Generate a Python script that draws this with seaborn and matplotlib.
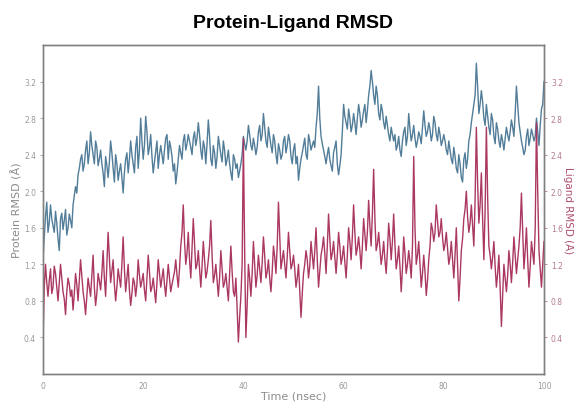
import numpy as np
import pandas as pd
import matplotlib
matplotlib.use('Agg')
import matplotlib.pyplot as plt
import seaborn as sns

# readings every 0.5 nsec (on the half-nsec grid)
protein_rmsd = [
    1.25, 1.72, 1.55, 1.85, 1.62, 1.78, 1.48, 1.70, 1.58, 1.80,
    1.60, 1.68, 1.85, 2.05, 2.18, 2.35, 2.22, 2.45, 2.30, 2.65,
    2.40, 2.55, 2.28, 2.45, 2.20, 2.38, 2.15, 2.55, 2.25, 2.40,
    2.12, 2.30, 1.98, 2.35, 2.20, 2.55, 2.30, 2.48, 2.25, 2.80,
    2.35, 2.82, 2.40, 2.62, 2.20, 2.45, 2.25, 2.50, 2.30, 2.58,
    2.35, 2.48, 2.22, 2.08, 2.35, 2.42, 2.55, 2.45, 2.62, 2.48,
    2.58, 2.50, 2.75, 2.45, 2.55, 2.30, 2.78, 2.35, 2.50, 2.25,
    2.60, 2.40, 2.55, 2.28, 2.45, 2.20, 2.40, 2.25, 2.15, 2.30,
    2.60, 2.45, 2.72, 2.50, 2.58, 2.40, 2.65, 2.55, 2.85, 2.55,
    2.70, 2.50, 2.62, 2.40, 2.52, 2.35, 2.55, 2.42, 2.62, 2.38,
    2.45, 2.30, 2.12, 2.35, 2.50, 2.40, 2.62, 2.45, 2.55, 2.70,
    3.15, 2.60, 2.45, 2.30, 2.48, 2.28, 2.42, 2.55, 2.18, 2.40,
    2.95, 2.75, 2.90, 2.65, 2.85, 2.62, 2.95, 2.70, 2.88, 2.75,
    3.05, 3.32, 3.05, 3.15, 2.85, 2.95, 2.75, 2.82, 2.62, 2.70,
    2.55, 2.45, 2.60, 2.38, 2.65, 2.50, 2.85, 2.55, 2.72, 2.48,
    2.65, 2.52, 2.88, 2.60, 2.75, 2.55, 2.82, 2.62, 2.70, 2.50,
    2.62, 2.45, 2.55, 2.35, 2.48, 2.25, 2.40, 2.15, 2.35, 2.25,
    2.55, 2.75, 2.95, 3.40, 2.85, 3.10, 2.80, 2.95, 2.70, 2.85,
    2.60, 2.75, 2.55, 2.62, 2.45, 2.70, 2.55, 2.78, 2.60, 3.15,
    2.75, 2.55, 2.40, 2.60, 2.50, 2.68, 2.55, 2.80, 2.50, 2.90,
    3.20,
]

# readings in between (0.25, 0.75, ... nsec)
protein_rmsd_mid = [
    1.50, 1.88, 1.66, 1.70, 1.55, 1.65, 1.35, 1.76, 1.68, 1.52,
    1.75, 1.60, 1.95, 1.98, 2.25, 2.40, 2.30, 2.55, 2.42, 2.50,
    2.30, 2.48, 2.35, 2.30, 2.05, 2.28, 2.32, 2.42, 2.10, 2.30,
    2.22, 2.15, 2.20, 2.42, 2.35, 2.40, 2.20, 2.60, 2.45, 2.55,
    2.50, 2.65, 2.48, 2.38, 2.32, 2.55, 2.40, 2.40, 2.45, 2.62,
    2.55, 2.38, 2.30, 2.20, 2.50, 2.35, 2.62, 2.52, 2.55, 2.40,
    2.65, 2.58, 2.62, 2.35, 2.48, 2.52, 2.60, 2.28, 2.42, 2.38,
    2.50, 2.32, 2.45, 2.35, 2.30, 2.12, 2.35, 2.30, 2.22, 2.40,
    2.52, 2.55, 2.62, 2.45, 2.50, 2.48, 2.72, 2.62, 2.70, 2.48,
    2.60, 2.42, 2.55, 2.30, 2.45, 2.40, 2.60, 2.50, 2.55, 2.30,
    2.52, 2.38, 2.25, 2.42, 2.58, 2.35, 2.55, 2.50, 2.48, 2.85,
    2.80, 2.52, 2.38, 2.40, 2.35, 2.22, 2.48, 2.30, 2.28, 2.65,
    2.82, 2.68, 2.80, 2.72, 2.75, 2.80, 2.85, 2.78, 2.95, 2.88,
    3.15, 3.20, 2.95, 3.05, 2.78, 2.88, 2.68, 2.72, 2.55, 2.62,
    2.62, 2.50, 2.45, 2.55, 2.70, 2.60, 2.68, 2.62, 2.58, 2.55,
    2.60, 2.70, 2.72, 2.65, 2.68, 2.62, 2.75, 2.55, 2.62, 2.55,
    2.55, 2.40, 2.45, 2.30, 2.38, 2.20, 2.30, 2.10, 2.42, 2.35,
    2.62, 2.85, 3.05, 3.15, 2.95, 2.98, 2.72, 2.82, 2.62, 2.78,
    2.52, 2.68, 2.48, 2.55, 2.58, 2.62, 2.65, 2.70, 2.85, 2.95,
    2.65, 2.48, 2.45, 2.68, 2.58, 2.62, 2.60, 2.65, 2.72, 2.95,
]

ligand_rmsd = [
    0.35, 1.20, 0.85, 1.15, 0.95, 1.10, 0.80, 1.20, 0.90, 0.65,
    1.05, 0.85, 0.70, 1.10, 0.80, 1.25, 0.90, 0.65, 1.05, 0.85,
    1.30, 0.75, 1.10, 0.92, 1.35, 0.85, 1.55, 1.00, 1.25, 0.80,
    1.15, 0.95, 1.50, 0.90, 1.20, 0.75, 1.05, 0.85, 1.25, 0.95,
    1.10, 0.80, 1.30, 0.90, 1.05, 0.78, 1.25, 0.95, 1.15, 0.85,
    1.20, 0.90, 1.05, 1.25, 0.95, 1.40, 1.85, 1.20, 1.55, 1.05,
    1.70, 1.15, 1.35, 0.95, 1.45, 1.05, 1.25, 1.68, 1.00, 1.20,
    0.85, 1.35, 0.95, 1.10, 0.80, 1.40, 0.90, 1.05, 0.35, 0.85,
    2.58, 0.40, 1.20, 0.85, 1.45, 0.95, 1.30, 1.00, 1.50, 1.05,
    1.25, 0.90, 1.40, 1.10, 1.88, 1.15, 1.35, 1.05, 1.55, 1.15,
    1.30, 0.95, 1.20, 0.62, 1.10, 1.35, 1.05, 1.45, 1.15, 1.60,
    0.95, 1.30, 1.50, 1.10, 1.75, 1.25, 1.45, 1.10, 1.55, 1.20,
    1.40, 1.05, 1.60, 1.25, 1.85, 1.30, 1.50, 1.15, 1.70, 1.35,
    1.90, 1.40, 2.24, 1.35, 1.55, 1.20, 1.45, 1.10, 1.65, 1.25,
    1.75, 1.15, 1.40, 0.90, 1.50, 1.10, 1.35, 1.05, 2.38, 1.20,
    1.45, 0.95, 1.30, 0.86, 1.25, 1.65, 1.45, 1.85, 1.50, 1.70,
    1.35, 1.55, 1.20, 1.45, 1.05, 1.60, 0.80, 1.35, 1.70, 2.00,
    1.55, 1.85, 1.40, 2.70, 1.65, 2.20, 1.25, 2.70, 1.40, 1.15,
    1.45, 0.95, 1.30, 0.52, 1.20, 0.90, 1.35, 1.00, 1.50, 1.10,
    1.40, 1.98, 1.15, 1.60, 0.95, 1.45, 1.20, 2.75, 1.35, 0.95,
    1.45,
]

ligand_rmsd_mid = [
    0.95, 1.00, 1.02, 0.88, 1.18, 0.95, 1.00, 1.05, 0.82, 0.90,
    0.98, 0.92, 0.88, 0.98, 1.02, 1.08, 0.80, 0.85, 0.95, 1.08,
    0.95, 0.88, 1.02, 1.10, 1.05, 1.20, 1.28, 1.12, 0.98, 0.95,
    1.05, 1.20, 1.15, 1.05, 0.92, 0.88, 1.00, 0.98, 1.08, 1.02,
    0.92, 1.05, 1.12, 0.95, 0.92, 1.00, 1.10, 1.05, 0.98, 1.02,
    1.05, 0.98, 1.12, 1.08, 1.15, 1.55, 1.45, 1.32, 1.25, 1.38,
    1.42, 1.20, 1.15, 1.18, 1.25, 1.12, 1.40, 1.30, 1.08, 1.02,
    1.05, 1.15, 1.00, 0.95, 1.10, 1.12, 0.85, 0.72, 0.62, 1.20,
    1.35, 0.75, 1.05, 1.10, 1.20, 1.08, 1.15, 1.22, 1.30, 1.12,
    1.05, 1.12, 1.28, 1.40, 1.50, 1.25, 1.20, 1.28, 1.35, 1.20,
    1.15, 1.05, 0.90, 0.88, 1.20, 1.25, 1.18, 1.30, 1.35, 1.25,
    1.12, 1.38, 1.32, 1.40, 1.48, 1.32, 1.28, 1.30, 1.40, 1.28,
    1.22, 1.30, 1.45, 1.50, 1.55, 1.38, 1.35, 1.40, 1.52, 1.55,
    1.62, 1.75, 1.70, 1.42, 1.38, 1.30, 1.25, 1.35, 1.48, 1.45,
    1.42, 1.25, 1.18, 1.15, 1.32, 1.20, 1.22, 1.40, 1.60, 1.30,
    1.20, 1.10, 1.12, 1.02, 1.40, 1.58, 1.55, 1.68, 1.55, 1.50,
    1.42, 1.38, 1.28, 1.25, 1.30, 1.20, 1.05, 1.48, 1.80, 1.72,
    1.65, 1.62, 1.90, 2.10, 1.85, 1.70, 1.80, 1.95, 1.30, 1.28,
    1.18, 1.10, 0.95, 0.85, 1.05, 1.08, 1.20, 1.22, 1.30, 1.25,
    1.60, 1.55, 1.35, 1.25, 1.18, 1.32, 1.60, 2.00, 1.15, 1.20,
]

y_ticks = [0.4, 0.8, 1.2, 1.6, 2.0, 2.4, 2.8, 3.2]
x_ticks = [0, 20, 40, 60, 80, 100]

protein_color = '#527d99'
ligand_color = '#ab3862'
tick_gray = '#9a9a9a'


def merge(main, mid):
    out = []
    for i, v in enumerate(main):
        out.append(v)
        if i < len(mid):
            out.append(mid[i])
    return out


protein_all = merge(protein_rmsd, protein_rmsd_mid)
ligand_all = merge(ligand_rmsd, ligand_rmsd_mid)
time_ns = [i * 0.25 for i in range(len(protein_all))]

df = pd.DataFrame({'time': time_ns, 'protein': protein_all, 'ligand': ligand_all})

sns.set_style('white')
fig = plt.figure(figsize=(5.74, 4.06), dpi=100)
ax = fig.add_axes([0.0749, 0.0764, 0.8728, 0.8103])
ax2 = ax.twinx()

sns.lineplot(data=df, x='time', y='protein', ax=ax, color=protein_color, linewidth=1.0)
sns.lineplot(data=df, x='time', y='ligand', ax=ax2, color=ligand_color, linewidth=1.0)

for a in (ax, ax2):
    a.set_xlim(0, 100)
    a.set_ylim(0, 3.6)
    a.set_yticks(y_ticks)
    a.set_yticklabels([f'{v:.1f}' for v in y_ticks])
    a.tick_params(axis='both', labelsize=5.5, colors=tick_gray, length=2.5, width=0.6, pad=2.5)
    for s in a.spines.values():
        s.set_color('#808080')
        s.set_linewidth(1.0)

ax.set_xticks(x_ticks)
ax.set_xticklabels([str(v) for v in x_ticks])
ax.set_xlabel('Time (nsec)', fontsize=8, color='#8c8c8c', va='center')
ax.xaxis.set_label_coords(0.5, -0.066)
ax.set_ylabel('Protein RMSD (Å)', fontsize=8, color='#8c8c8c', va='center')
ax.yaxis.set_label_coords(-0.053, 0.5)
ax2.set_ylabel('Ligand RMSD (Å)', fontsize=7.5, color='#b0506f', rotation=270, va='center')
ax2.yaxis.set_label_coords(1.05, 0.5)
ax2.tick_params(axis='y', colors='#b57a8e')

ax.set_title('Protein-Ligand RMSD', fontsize=14, fontweight='bold', color='black',
             family='Liberation Sans', pad=13)

fig.savefig('out.png', dpi=100)
plt.close(fig)
